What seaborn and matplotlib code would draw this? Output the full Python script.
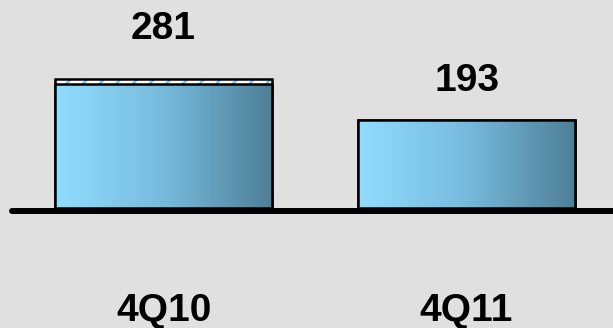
import numpy as np
import matplotlib
matplotlib.use('Agg')
import matplotlib.pyplot as plt
import seaborn as sns
import pandas as pd
from matplotlib.colors import LinearSegmentedColormap

# ---- data ----
quarters = ['4Q10', '4Q11']
core = [270, 193]
extra = [11, 0]
totals = [c + e for c, e in zip(core, extra)]

# ---- style / layout ----
BG = '#e0e0e0'
PX = 0.4585            # pixels per data unit
label_gap_px = [40, 29]
sns.set_theme(style='white')
plt.rcParams['font.family'] = ['Liberation Sans', 'DejaVu Sans']
plt.rcParams['hatch.color'] = '#6fc0ea'
plt.rcParams['hatch.linewidth'] = 1.6

fig = plt.figure(figsize=(6.13, 3.28), dpi=100, facecolor=BG)
ax = fig.add_axes([0, 0, 1, 1])
ax.set_facecolor(BG)

df = pd.DataFrame({'q': quarters, 'core': core, 'total': totals})
W = 0.716

# hatched top segment (total bars)
sns.barplot(data=df, x='q', y='total', color='white', width=W, ax=ax,
            edgecolor='#6fc0ea', linewidth=0, hatch='//', saturation=1)
n0 = len(ax.patches)
sns.barplot(data=df, x='q', y='total', fill=False, width=W, ax=ax,
            edgecolor='black', linewidth=1.8)
n1 = len(ax.patches)
sns.barplot(data=df, x='q', y='core', color='white', width=W, ax=ax,
            edgecolor='black', linewidth=1.8, saturation=1)
core_patches = ax.patches[n1:]

cmap = LinearSegmentedColormap.from_list('g', ['#91ddfe', '#76bbdd', '#4e7f96'])
grad = np.linspace(0, 1, 256).reshape(1, -1)
for p in core_patches:
    x0, y0 = p.get_x(), p.get_y()
    w, h = p.get_width(), p.get_height()
    im = ax.imshow(grad, cmap=cmap, extent=(x0, x0 + w, y0, y0 + h),
                   aspect='auto', zorder=p.get_zorder() + 0.1, interpolation='bilinear')
    im.set_clip_path(p)
    p.set_facecolor('none')
    p.set_zorder(p.get_zorder() + 0.2)

# axis limits (pixel-matched)
ax.set_xlim(-0.54, 1.4835)
ax.set_ylim(-120 / PX, 208 / PX)

# baseline
ax.plot([-0.5004, 1.6], [-3 / PX, -3 / PX], color='black', lw=4.3,
        solid_capstyle='round', zorder=10, clip_on=False)

# value labels
for i, t in enumerate(totals):
    ax.text(i, t + label_gap_px[i] / PX, f'{t}', ha='center', va='baseline',
            fontsize=28, fontweight='bold', color='black')

# category labels
for i, q in enumerate(quarters):
    ax.text(i, -112.7 / PX, q, ha='center', va='baseline',
            fontsize=28, fontweight='bold', color='black')

ax.set_xlabel('')
ax.set_ylabel('')
ax.set_xticks([])
ax.set_yticks([])
for s in ax.spines.values():
    s.set_visible(False)

fig.savefig('out.png', dpi=100, facecolor=BG)
